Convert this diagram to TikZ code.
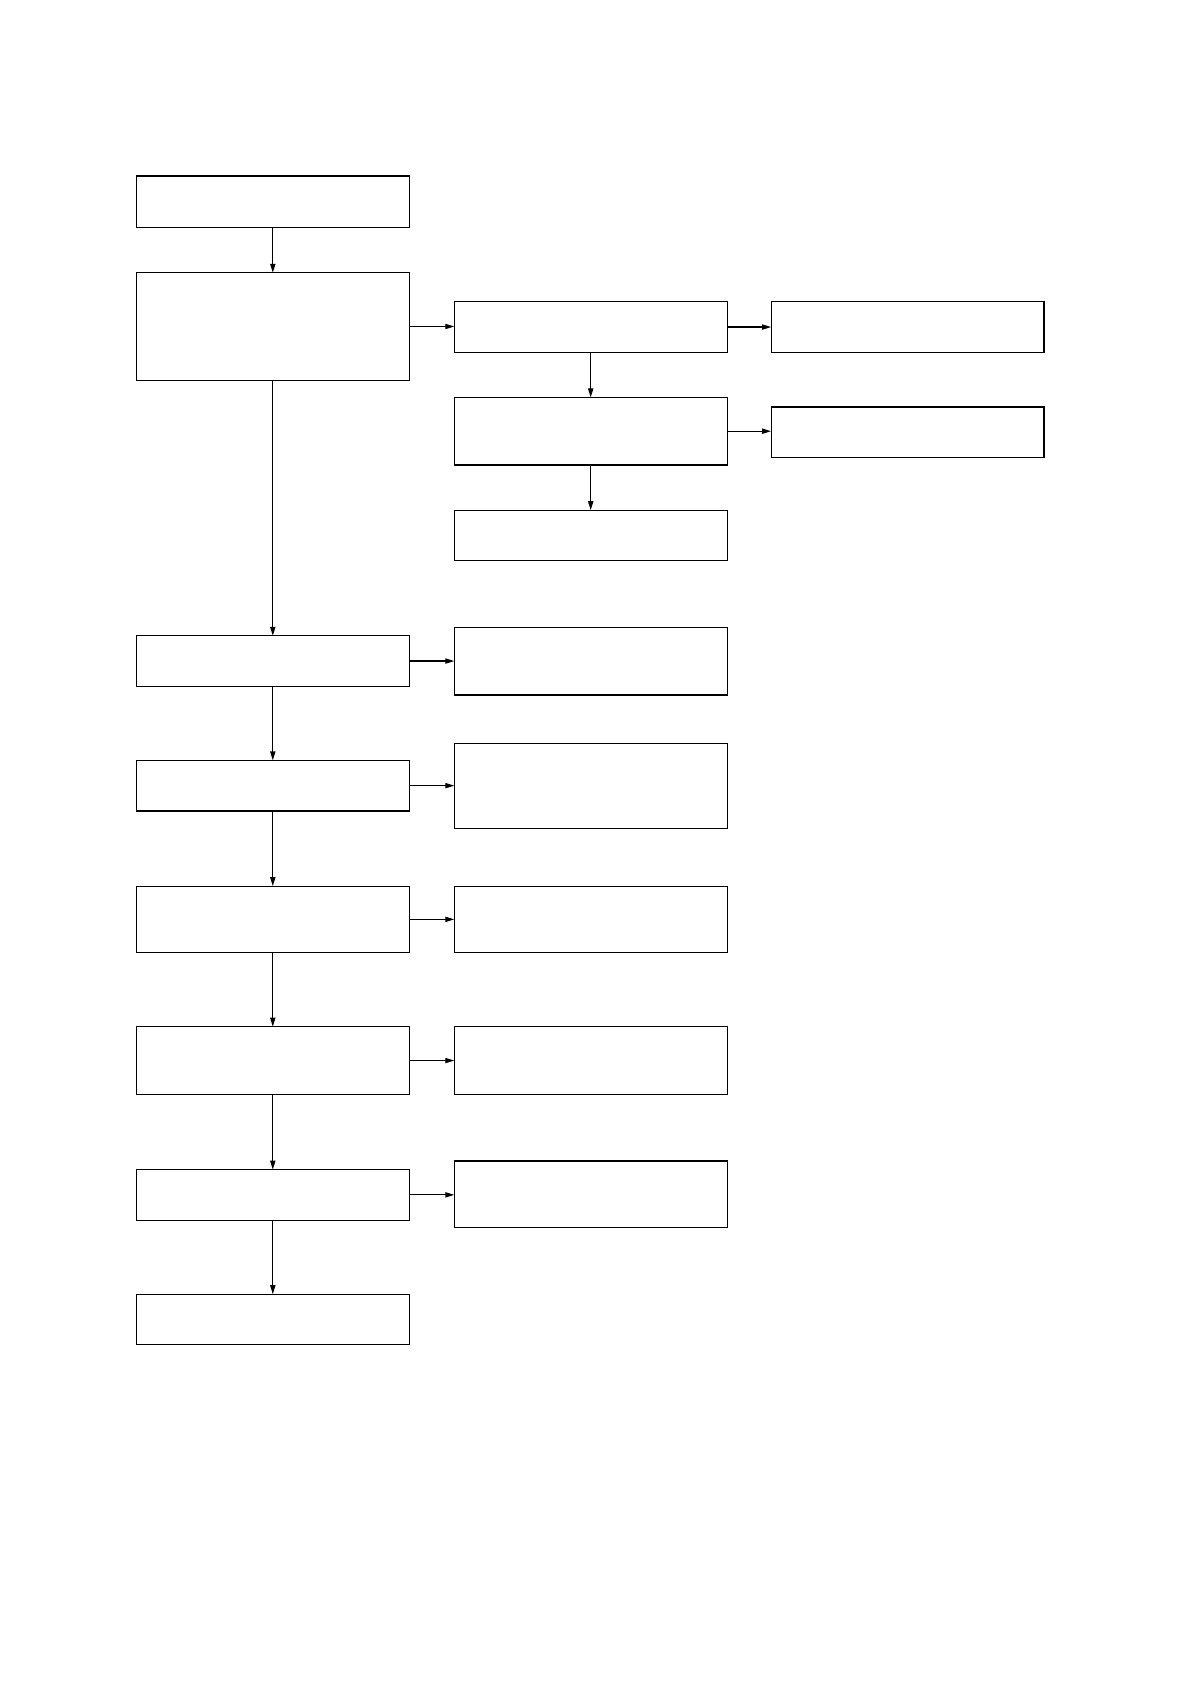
\documentclass[tikz,border=0pt]{standalone}
\usetikzlibrary{arrows.meta}
\begin{document}
\begin{tikzpicture}[x=0.5pt,y=-0.5pt,
  box/.style={draw,line width=0.6pt,minimum width=136.4pt,inner sep=0pt,outer sep=0pt},
  arr/.style={line width=0.6pt,-{Triangle[length=4.5pt,width=2.6pt]}}]
\useasboundingbox[fill=white] (0,0) rectangle (1190,1684);
% left column
\node[box,minimum height=25.8pt]  (b1) at (272.8,201.9) {};
\node[box,minimum height=53.7pt]  (b2) at (272.8,326.5) {};
\node[box,minimum height=25.25pt] (b3) at (272.8,661.05) {};
\node[box,minimum height=25.25pt] (b4) at (272.8,785.65) {};
\node[box,minimum height=33.25pt] (b5) at (272.8,919.35) {};
\node[box,minimum height=33.85pt] (b6) at (272.8,1060.55) {};
\node[box,minimum height=25.25pt] (b7) at (272.8,1194.85) {};
\node[box,minimum height=25.2pt]  (b8) at (272.8,1319.4) {};
% middle column
\node[box,minimum height=25.25pt] (m1) at (590.7,327.05) {};
\node[box,minimum height=33.8pt]  (m2) at (590.7,431.2) {};
\node[box,minimum height=25.2pt]  (m3) at (590.7,535.4) {};
\node[box,minimum height=33.85pt] (m4) at (590.7,661.05) {};
\node[box,minimum height=42.45pt] (m5) at (590.7,785.65) {};
\node[box,minimum height=33.25pt] (m6) at (590.7,919.35) {};
\node[box,minimum height=33.85pt] (m7) at (590.7,1060.55) {};
\node[box,minimum height=33.3pt]  (m8) at (590.7,1194.3) {};
% right column
\node[box,minimum height=25.25pt] (r1) at (907.5,327.05) {};
\node[box,minimum height=25.25pt] (r2) at (907.5,432.25) {};
% vertical connectors
\draw[arr] (b1) -- (b2);
\draw[arr] (b2) -- (b3);
\draw[arr] (b3) -- (b4);
\draw[arr] (b4) -- (b5);
\draw[arr] (b5) -- (b6);
\draw[arr] (b6) -- (b7);
\draw[arr] (b7) -- (b8);
\draw[arr] (m1) -- (m2);
\draw[arr] (m2) -- (m3);
% horizontal connectors
\draw[arr] (b2.east) -- (b2.east -| m1.west);
\draw[arr] (m1.east) -- (m1.east -| r1.west);
\draw[arr] (m2.east) -- (m2.east -| r2.west);
\draw[arr] (b3.east) -- (b3.east -| m4.west);
\draw[arr] (b4.east) -- (b4.east -| m5.west);
\draw[arr] (b5.east) -- (b5.east -| m6.west);
\draw[arr] (b6.east) -- (b6.east -| m7.west);
\draw[arr] (b7.east) -- (b7.east -| m8.west);
\end{tikzpicture}
\end{document}
